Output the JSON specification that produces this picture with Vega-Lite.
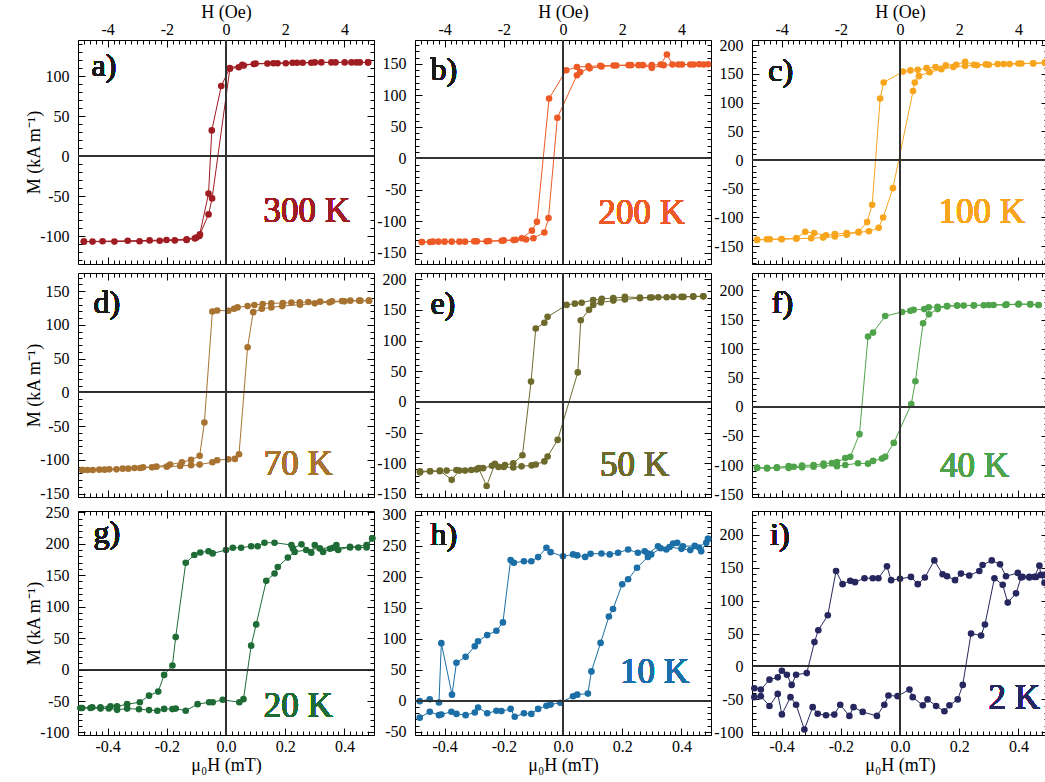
{
"$schema": "https://vega.github.io/schema/vega-lite/v6.json",
"padding": {"left": 25, "top": 2, "right": 0, "bottom": 0},
"config": {
  "view": {"stroke": "black", "strokeWidth": 1},
  "font": "Liberation Serif",
  "text": {"font": "Liberation Serif", "fontWeight": "normal"},
  "circle": {"size": 44, "opacity": 1},
  "axis": {"grid": false, "domain": false, "labelFont": "Liberation Serif", "labelFontSize": 16, "labelFontWeight": "normal", "labelColor": "black", "titleFont": "Liberation Serif", "titleFontSize": 18, "titleFontWeight": "normal", "titleColor": "black", "tickColor": "black", "tickWidth": 1, "labelFlush": false}
},
"datasets": {
"a": [
{"b":"u","x":0.48,"y":117},{"b":"u","x":0.452,"y":117},{"b":"u","x":0.424,"y":117},{"b":"u","x":0.401,"y":117},{"b":"u","x":0.356,"y":117},{"b":"u","x":0.322,"y":117},{"b":"u","x":0.288,"y":116.5},{"b":"u","x":0.259,"y":116.5},{"b":"u","x":0.225,"y":116.5},{"b":"u","x":0.202,"y":116},{"b":"u","x":0.174,"y":116},{"b":"u","x":0.14,"y":115.5},{"b":"u","x":0.094,"y":115},{"b":"u","x":0.055,"y":114},{"b":"u","x":0.013,"y":110},{"b":"u","x":-0.016,"y":87.5},{"b":"u","x":-0.048,"y":32},{"b":"u","x":-0.059,"y":-47},{"b":"u","x":-0.09,"y":-100},{"b":"u","x":-0.105,"y":-103},{"b":"u","x":-0.133,"y":-105},{"b":"u","x":-0.173,"y":-105.5},{"b":"u","x":-0.224,"y":-106},{"b":"u","x":-0.292,"y":-106.5},{"b":"u","x":-0.377,"y":-107},{"b":"u","x":-0.451,"y":-107},{"b":"u","x":-0.48,"y":-107},
{"b":"l","x":-0.48,"y":-107},{"b":"l","x":-0.417,"y":-106.5},{"b":"l","x":-0.332,"y":-106},{"b":"l","x":-0.258,"y":-105.5},{"b":"l","x":-0.201,"y":-105},{"b":"l","x":-0.133,"y":-104},{"b":"l","x":-0.1,"y":-102},{"b":"l","x":-0.088,"y":-98},{"b":"l","x":-0.059,"y":-73},{"b":"l","x":-0.047,"y":-53},{"b":"l","x":0.013,"y":109},{"b":"l","x":0.043,"y":111},{"b":"l","x":0.06,"y":113},{"b":"l","x":0.1,"y":115.5},{"b":"l","x":0.16,"y":116},{"b":"l","x":0.24,"y":116.5},{"b":"l","x":0.3,"y":117},{"b":"l","x":0.37,"y":117},{"b":"l","x":0.44,"y":117},{"b":"l","x":0.48,"y":117}
],
"b": [
{"b":"u","x":0.475,"y":149},{"b":"u","x":0.441,"y":149},{"b":"u","x":0.402,"y":149},{"b":"u","x":0.37,"y":149},{"b":"u","x":0.351,"y":165},{"b":"u","x":0.33,"y":149},{"b":"u","x":0.3,"y":148},{"b":"u","x":0.255,"y":148},{"b":"u","x":0.222,"y":148},{"b":"u","x":0.171,"y":147.5},{"b":"u","x":0.126,"y":147},{"b":"u","x":0.086,"y":146},{"b":"u","x":0.047,"y":145},{"b":"u","x":0.011,"y":140},{"b":"u","x":-0.047,"y":95},{"b":"u","x":-0.088,"y":-101},{"b":"u","x":-0.105,"y":-115},{"b":"u","x":-0.139,"y":-127},{"b":"u","x":-0.167,"y":-130},{"b":"u","x":-0.207,"y":-131},{"b":"u","x":-0.258,"y":-132},{"b":"u","x":-0.291,"y":-132},{"b":"u","x":-0.331,"y":-132.5},{"b":"u","x":-0.376,"y":-132.5},{"b":"u","x":-0.421,"y":-132.5},{"b":"u","x":-0.449,"y":-133},{"b":"u","x":-0.477,"y":-133},
{"b":"l","x":-0.477,"y":-133},{"b":"l","x":-0.44,"y":-132.5},{"b":"l","x":-0.4,"y":-132.5},{"b":"l","x":-0.35,"y":-132.5},{"b":"l","x":-0.3,"y":-132},{"b":"l","x":-0.25,"y":-131.5},{"b":"l","x":-0.2,"y":-130.5},{"b":"l","x":-0.16,"y":-129.5},{"b":"l","x":-0.125,"y":-129},{"b":"l","x":-0.1,"y":-127},{"b":"l","x":-0.063,"y":-118},{"b":"l","x":-0.049,"y":-95},{"b":"l","x":-0.019,"y":64.5},{"b":"l","x":0.047,"y":132},{"b":"l","x":0.058,"y":137},{"b":"l","x":0.09,"y":143},{"b":"l","x":0.13,"y":146},{"b":"l","x":0.18,"y":147.5},{"b":"l","x":0.23,"y":148},{"b":"l","x":0.27,"y":148},{"b":"l","x":0.3,"y":143.7},{"b":"l","x":0.34,"y":148},{"b":"l","x":0.39,"y":149},{"b":"l","x":0.43,"y":149},{"b":"l","x":0.46,"y":149.5},{"b":"l","x":0.49,"y":149.5}
],
"c": [
{"b":"u","x":0.49,"y":169},{"b":"u","x":0.45,"y":168},{"b":"u","x":0.41,"y":168},{"b":"u","x":0.37,"y":167},{"b":"u","x":0.33,"y":167},{"b":"u","x":0.29,"y":166.5},{"b":"u","x":0.25,"y":166},{"b":"u","x":0.22,"y":171},{"b":"u","x":0.19,"y":166},{"b":"u","x":0.155,"y":165},{"b":"u","x":0.12,"y":162},{"b":"u","x":0.09,"y":160},{"b":"u","x":0.06,"y":157},{"b":"u","x":0.035,"y":156},{"b":"u","x":0.01,"y":154},{"b":"u","x":-0.055,"y":135},{"b":"u","x":-0.067,"y":107},{"b":"u","x":-0.094,"y":-78},{"b":"u","x":-0.111,"y":-108},{"b":"u","x":-0.14,"y":-125},{"b":"u","x":-0.18,"y":-130},{"b":"u","x":-0.22,"y":-133},{"b":"u","x":-0.26,"y":-135},{"b":"u","x":-0.3,"y":-136},{"b":"u","x":-0.35,"y":-137},{"b":"u","x":-0.4,"y":-138},{"b":"u","x":-0.45,"y":-138},{"b":"u","x":-0.483,"y":-139},
{"b":"l","x":-0.483,"y":-139},{"b":"l","x":-0.44,"y":-138},{"b":"l","x":-0.4,"y":-137.5},{"b":"l","x":-0.35,"y":-136},{"b":"l","x":-0.32,"y":-125},{"b":"l","x":-0.29,"y":-127},{"b":"l","x":-0.25,"y":-131},{"b":"l","x":-0.22,"y":-129},{"b":"l","x":-0.18,"y":-127},{"b":"l","x":-0.14,"y":-126},{"b":"l","x":-0.105,"y":-124},{"b":"l","x":-0.072,"y":-118},{"b":"l","x":-0.057,"y":-100},{"b":"l","x":-0.024,"y":-49},{"b":"l","x":0.044,"y":120},{"b":"l","x":0.05,"y":135},{"b":"l","x":0.064,"y":146},{"b":"l","x":0.1,"y":153},{"b":"l","x":0.14,"y":158},{"b":"l","x":0.18,"y":162},{"b":"l","x":0.22,"y":164},{"b":"l","x":0.26,"y":165},{"b":"l","x":0.3,"y":166},{"b":"l","x":0.35,"y":167},{"b":"l","x":0.4,"y":168},{"b":"l","x":0.45,"y":168.5},{"b":"l","x":0.49,"y":170}
],
"d": [
{"b":"u","x":0.483,"y":136},{"b":"u","x":0.454,"y":136},{"b":"u","x":0.42,"y":136},{"b":"u","x":0.392,"y":135.5},{"b":"u","x":0.358,"y":135},{"b":"u","x":0.318,"y":134.5},{"b":"u","x":0.278,"y":134},{"b":"u","x":0.249,"y":133.5},{"b":"u","x":0.221,"y":133},{"b":"u","x":0.192,"y":132.5},{"b":"u","x":0.153,"y":132},{"b":"u","x":0.124,"y":131},{"b":"u","x":0.096,"y":129.5},{"b":"u","x":0.073,"y":128},{"b":"u","x":0.039,"y":126},{"b":"u","x":0.027,"y":124},{"b":"u","x":0.008,"y":121},{"b":"u","x":-0.03,"y":121.5},{"b":"u","x":-0.046,"y":120},{"b":"u","x":-0.073,"y":-44.5},{"b":"u","x":-0.089,"y":-94},{"b":"u","x":-0.118,"y":-100},{"b":"u","x":-0.149,"y":-103.5},{"b":"u","x":-0.189,"y":-107},{"b":"u","x":-0.235,"y":-110},{"b":"u","x":-0.28,"y":-111},{"b":"u","x":-0.309,"y":-112},{"b":"u","x":-0.349,"y":-113},{"b":"u","x":-0.394,"y":-114},{"b":"u","x":-0.428,"y":-114.5},{"b":"u","x":-0.468,"y":-115},{"b":"u","x":-0.485,"y":-115},
{"b":"l","x":-0.485,"y":-115},{"b":"l","x":-0.45,"y":-115},{"b":"l","x":-0.41,"y":-114.5},{"b":"l","x":-0.37,"y":-114},{"b":"l","x":-0.33,"y":-113},{"b":"l","x":-0.29,"y":-112},{"b":"l","x":-0.25,"y":-111},{"b":"l","x":-0.2,"y":-110},{"b":"l","x":-0.155,"y":-109},{"b":"l","x":-0.118,"y":-108},{"b":"l","x":-0.089,"y":-107},{"b":"l","x":-0.046,"y":-103.5},{"b":"l","x":-0.03,"y":-100.5},{"b":"l","x":0.008,"y":-99},{"b":"l","x":0.03,"y":-98.5},{"b":"l","x":0.044,"y":-91.6},{"b":"l","x":0.073,"y":67},{"b":"l","x":0.092,"y":119},{"b":"l","x":0.121,"y":124},{"b":"l","x":0.153,"y":126},{"b":"l","x":0.19,"y":128},{"b":"l","x":0.25,"y":130},{"b":"l","x":0.3,"y":132},{"b":"l","x":0.35,"y":133.5},{"b":"l","x":0.4,"y":135},{"b":"l","x":0.45,"y":136},{"b":"l","x":0.483,"y":136}
],
"e": [
{"b":"u","x":0.474,"y":172},{"b":"u","x":0.44,"y":172},{"b":"u","x":0.407,"y":171},{"b":"u","x":0.373,"y":171},{"b":"u","x":0.322,"y":170.5},{"b":"u","x":0.294,"y":170},{"b":"u","x":0.26,"y":170},{"b":"u","x":0.209,"y":171},{"b":"u","x":0.17,"y":169},{"b":"u","x":0.131,"y":168},{"b":"u","x":0.102,"y":166},{"b":"u","x":0.063,"y":161.5},{"b":"u","x":0.04,"y":160},{"b":"u","x":0.012,"y":158},{"b":"u","x":-0.052,"y":138.6},{"b":"u","x":-0.063,"y":129},{"b":"u","x":-0.092,"y":119.5},{"b":"u","x":-0.108,"y":33},{"b":"u","x":-0.137,"y":-87},{"b":"u","x":-0.168,"y":-100},{"b":"u","x":-0.196,"y":-103},{"b":"u","x":-0.218,"y":-106},{"b":"u","x":-0.24,"y":-104},{"b":"u","x":-0.27,"y":-108},{"b":"u","x":-0.292,"y":-110},{"b":"u","x":-0.331,"y":-112},{"b":"u","x":-0.36,"y":-111},{"b":"u","x":-0.393,"y":-112},{"b":"u","x":-0.416,"y":-113},{"b":"u","x":-0.449,"y":-113},{"b":"u","x":-0.483,"y":-115},
{"b":"l","x":-0.483,"y":-113},{"b":"l","x":-0.449,"y":-113},{"b":"l","x":-0.416,"y":-112},{"b":"l","x":-0.376,"y":-127},{"b":"l","x":-0.35,"y":-112},{"b":"l","x":-0.31,"y":-111},{"b":"l","x":-0.285,"y":-108},{"b":"l","x":-0.258,"y":-137},{"b":"l","x":-0.23,"y":-101},{"b":"l","x":-0.2,"y":-106},{"b":"l","x":-0.168,"y":-107},{"b":"l","x":-0.14,"y":-105},{"b":"l","x":-0.106,"y":-103.5},{"b":"l","x":-0.092,"y":-102},{"b":"l","x":-0.063,"y":-97},{"b":"l","x":-0.052,"y":-89},{"b":"l","x":-0.018,"y":-62},{"b":"l","x":0.05,"y":48},{"b":"l","x":0.06,"y":133},{"b":"l","x":0.088,"y":150},{"b":"l","x":0.102,"y":158},{"b":"l","x":0.128,"y":162},{"b":"l","x":0.17,"y":165},{"b":"l","x":0.209,"y":167},{"b":"l","x":0.26,"y":169},{"b":"l","x":0.3,"y":170},{"b":"l","x":0.35,"y":170.5},{"b":"l","x":0.4,"y":171},{"b":"l","x":0.44,"y":171.5},{"b":"l","x":0.474,"y":172}
],
"f": [
{"b":"u","x":0.468,"y":175},{"b":"u","x":0.44,"y":176},{"b":"u","x":0.401,"y":177},{"b":"u","x":0.356,"y":175},{"b":"u","x":0.316,"y":175},{"b":"u","x":0.283,"y":174.5},{"b":"u","x":0.249,"y":174},{"b":"u","x":0.215,"y":174},{"b":"u","x":0.193,"y":174},{"b":"u","x":0.159,"y":173},{"b":"u","x":0.127,"y":172},{"b":"u","x":0.097,"y":171},{"b":"u","x":0.082,"y":168},{"b":"u","x":0.046,"y":166.7},{"b":"u","x":0.035,"y":165},{"b":"u","x":0.007,"y":163},{"b":"u","x":-0.05,"y":156},{"b":"u","x":-0.091,"y":127.6},{"b":"u","x":-0.108,"y":120.7},{"b":"u","x":-0.137,"y":-47},{"b":"u","x":-0.168,"y":-86},{"b":"u","x":-0.185,"y":-88},{"b":"u","x":-0.213,"y":-95},{"b":"u","x":-0.23,"y":-96.5},{"b":"u","x":-0.258,"y":-97.7},{"b":"u","x":-0.292,"y":-100},{"b":"u","x":-0.331,"y":-101},{"b":"u","x":-0.359,"y":-103},{"b":"u","x":-0.376,"y":-102},{"b":"u","x":-0.416,"y":-104},{"b":"u","x":-0.449,"y":-105},{"b":"u","x":-0.483,"y":-104.6},
{"b":"l","x":-0.483,"y":-105},{"b":"l","x":-0.449,"y":-106},{"b":"l","x":-0.416,"y":-105},{"b":"l","x":-0.376,"y":-105},{"b":"l","x":-0.331,"y":-104},{"b":"l","x":-0.292,"y":-103},{"b":"l","x":-0.258,"y":-101},{"b":"l","x":-0.213,"y":-102},{"b":"l","x":-0.185,"y":-100},{"b":"l","x":-0.142,"y":-97},{"b":"l","x":-0.108,"y":-97.7},{"b":"l","x":-0.091,"y":-93},{"b":"l","x":-0.061,"y":-89},{"b":"l","x":-0.05,"y":-86},{"b":"l","x":-0.021,"y":-62},{"b":"l","x":0.038,"y":4.6},{"b":"l","x":0.052,"y":44},{"b":"l","x":0.078,"y":143.7},{"b":"l","x":0.098,"y":159},{"b":"l","x":0.127,"y":168},{"b":"l","x":0.159,"y":173},{"b":"l","x":0.193,"y":174},{"b":"l","x":0.25,"y":174.5},{"b":"l","x":0.3,"y":175},{"b":"l","x":0.36,"y":176},{"b":"l","x":0.4,"y":176},{"b":"l","x":0.44,"y":176.5},{"b":"l","x":0.468,"y":175}
],
"g": [
{"b":"u","x":0.494,"y":208.5},{"b":"u","x":0.475,"y":194},{"b":"u","x":0.447,"y":194},{"b":"u","x":0.419,"y":195},{"b":"u","x":0.379,"y":190},{"b":"u","x":0.373,"y":198},{"b":"u","x":0.351,"y":192},{"b":"u","x":0.328,"y":187},{"b":"u","x":0.3,"y":198},{"b":"u","x":0.288,"y":185.6},{"b":"u","x":0.255,"y":199},{"b":"u","x":0.226,"y":192.5},{"b":"u","x":0.221,"y":198},{"b":"u","x":0.164,"y":201.6},{"b":"u","x":0.13,"y":201.6},{"b":"u","x":0.107,"y":196},{"b":"u","x":0.085,"y":196},{"b":"u","x":0.051,"y":193.6},{"b":"u","x":0.023,"y":193.6},{"b":"u","x":0,"y":190},{"b":"u","x":-0.045,"y":184.6},{"b":"u","x":-0.059,"y":188},{"b":"u","x":-0.087,"y":186},{"b":"u","x":-0.107,"y":182},{"b":"u","x":-0.136,"y":169.7},{"b":"u","x":-0.17,"y":51.6},{"b":"u","x":-0.181,"y":6.4},{"b":"u","x":-0.209,"y":-8.5},{"b":"u","x":-0.229,"y":-35},{"b":"u","x":-0.26,"y":-41.5},{"b":"u","x":-0.291,"y":-52},{"b":"u","x":-0.334,"y":-55},{"b":"u","x":-0.368,"y":-58.5},{"b":"u","x":-0.39,"y":-58.5},{"b":"u","x":-0.424,"y":-60},{"b":"u","x":-0.452,"y":-60},{"b":"u","x":-0.486,"y":-61},
{"b":"l","x":-0.492,"y":-61},{"b":"l","x":-0.458,"y":-61},{"b":"l","x":-0.424,"y":-62},{"b":"l","x":-0.396,"y":-61.7},{"b":"l","x":-0.368,"y":-64},{"b":"l","x":-0.334,"y":-62},{"b":"l","x":-0.294,"y":-63},{"b":"l","x":-0.26,"y":-64.4},{"b":"l","x":-0.232,"y":-65.4},{"b":"l","x":-0.209,"y":-62.5},{"b":"l","x":-0.181,"y":-62.8},{"b":"l","x":-0.17,"y":-62},{"b":"l","x":-0.136,"y":-65.4},{"b":"l","x":-0.096,"y":-55},{"b":"l","x":-0.057,"y":-52},{"b":"l","x":-0.045,"y":-52},{"b":"l","x":-0.011,"y":-48},{"b":"l","x":0.045,"y":-52},{"b":"l","x":0.059,"y":-47},{"b":"l","x":0.085,"y":38},{"b":"l","x":0.102,"y":71.8},{"b":"l","x":0.136,"y":141},{"b":"l","x":0.164,"y":152.7},{"b":"l","x":0.175,"y":163},{"b":"l","x":0.209,"y":178},{"b":"l","x":0.232,"y":187},{"b":"l","x":0.271,"y":190},{"b":"l","x":0.317,"y":192.5},{"b":"l","x":0.362,"y":193.6},{"b":"l","x":0.419,"y":194},{"b":"l","x":0.475,"y":198},{"b":"l","x":0.494,"y":208.5}
],
"h": [
{"b":"u","x":0.49,"y":261},{"b":"u","x":0.484,"y":254.7},{"b":"u","x":0.467,"y":241},{"b":"u","x":0.445,"y":250},{"b":"u","x":0.405,"y":249},{"b":"u","x":0.386,"y":254.7},{"b":"u","x":0.372,"y":253.6},{"b":"u","x":0.349,"y":244},{"b":"u","x":0.321,"y":249},{"b":"u","x":0.287,"y":237.6},{"b":"u","x":0.276,"y":241},{"b":"u","x":0.253,"y":238.7},{"b":"u","x":0.22,"y":244},{"b":"u","x":0.186,"y":238.7},{"b":"u","x":0.158,"y":236},{"b":"u","x":0.13,"y":237.6},{"b":"u","x":0.093,"y":237},{"b":"u","x":0.075,"y":232},{"b":"u","x":0.048,"y":234.4},{"b":"u","x":0.034,"y":236},{"b":"u","x":0,"y":233},{"b":"u","x":-0.042,"y":239.7},{"b":"u","x":-0.056,"y":246.7},{"b":"u","x":-0.084,"y":231.7},{"b":"u","x":-0.107,"y":225},{"b":"u","x":-0.132,"y":225},{"b":"u","x":-0.166,"y":222.6},{"b":"u","x":-0.177,"y":227},{"b":"u","x":-0.203,"y":126.5},{"b":"u","x":-0.225,"y":113},{"b":"u","x":-0.256,"y":106},{"b":"u","x":-0.287,"y":96},{"b":"u","x":-0.298,"y":88},{"b":"u","x":-0.329,"y":71},{"b":"u","x":-0.36,"y":61.4},{"b":"u","x":-0.375,"y":10},{"b":"u","x":-0.411,"y":93},{"b":"u","x":-0.419,"y":-2.7},{"b":"u","x":-0.45,"y":2.7},{"b":"u","x":-0.484,"y":-0.5},
{"b":"l","x":-0.484,"y":-27},{"b":"l","x":-0.45,"y":-17.6},{"b":"l","x":-0.419,"y":-23},{"b":"l","x":-0.411,"y":-22},{"b":"l","x":-0.377,"y":-17.6},{"b":"l","x":-0.36,"y":-21},{"b":"l","x":-0.329,"y":-23},{"b":"l","x":-0.298,"y":-18.7},{"b":"l","x":-0.287,"y":-10.7},{"b":"l","x":-0.256,"y":-20},{"b":"l","x":-0.225,"y":-16},{"b":"l","x":-0.208,"y":-16.5},{"b":"l","x":-0.177,"y":-13},{"b":"l","x":-0.163,"y":-25.6},{"b":"l","x":-0.132,"y":-20},{"b":"l","x":-0.107,"y":-21},{"b":"l","x":-0.084,"y":-13},{"b":"l","x":-0.056,"y":-8},{"b":"l","x":-0.042,"y":-6},{"b":"l","x":-0.009,"y":-3},{"b":"l","x":0.034,"y":7.5},{"b":"l","x":0.048,"y":10},{"b":"l","x":0.084,"y":11.7},{"b":"l","x":0.096,"y":47.5},{"b":"l","x":0.127,"y":93.4},{"b":"l","x":0.155,"y":136},{"b":"l","x":0.169,"y":148},{"b":"l","x":0.2,"y":188},{"b":"l","x":0.22,"y":196},{"b":"l","x":0.25,"y":214.6},{"b":"l","x":0.287,"y":232},{"b":"l","x":0.298,"y":236},{"b":"l","x":0.33,"y":246},{"b":"l","x":0.36,"y":248},{"b":"l","x":0.4,"y":245},{"b":"l","x":0.43,"y":243},{"b":"l","x":0.46,"y":247},{"b":"l","x":0.49,"y":261}
],
"i": [
{"b":"u","x":0.488,"y":127},{"b":"u","x":0.476,"y":139},{"b":"u","x":0.471,"y":153},{"b":"u","x":0.454,"y":136},{"b":"u","x":0.437,"y":136},{"b":"u","x":0.414,"y":136},{"b":"u","x":0.398,"y":142},{"b":"u","x":0.358,"y":137},{"b":"u","x":0.338,"y":155},{"b":"u","x":0.31,"y":161},{"b":"u","x":0.279,"y":154},{"b":"u","x":0.268,"y":145},{"b":"u","x":0.234,"y":138},{"b":"u","x":0.206,"y":141},{"b":"u","x":0.186,"y":131},{"b":"u","x":0.159,"y":137},{"b":"u","x":0.144,"y":140},{"b":"u","x":0.116,"y":161},{"b":"u","x":0.084,"y":135},{"b":"u","x":0.06,"y":125},{"b":"u","x":0.037,"y":136},{"b":"u","x":0,"y":133},{"b":"u","x":-0.03,"y":131},{"b":"u","x":-0.044,"y":152},{"b":"u","x":-0.073,"y":134},{"b":"u","x":-0.092,"y":134},{"b":"u","x":-0.12,"y":134},{"b":"u","x":-0.152,"y":128},{"b":"u","x":-0.168,"y":130},{"b":"u","x":-0.194,"y":125},{"b":"u","x":-0.216,"y":145},{"b":"u","x":-0.244,"y":77.7},{"b":"u","x":-0.276,"y":55},{"b":"u","x":-0.289,"y":37},{"b":"u","x":-0.315,"y":-10},{"b":"u","x":-0.351,"y":-12.5},{"b":"u","x":-0.366,"y":-28},{"b":"u","x":-0.382,"y":-12.5},{"b":"u","x":-0.399,"y":-6.5},{"b":"u","x":-0.413,"y":-16.5},{"b":"u","x":-0.441,"y":-20},{"b":"u","x":-0.47,"y":-35},{"b":"u","x":-0.492,"y":-33},
{"b":"l","x":-0.492,"y":-46.6},{"b":"l","x":-0.47,"y":-45},{"b":"l","x":-0.441,"y":-60},{"b":"l","x":-0.413,"y":-41.6},{"b":"l","x":-0.399,"y":-72.7},{"b":"l","x":-0.37,"y":-46.6},{"b":"l","x":-0.351,"y":-58},{"b":"l","x":-0.323,"y":-95.7},{"b":"l","x":-0.295,"y":-61.7},{"b":"l","x":-0.278,"y":-71.7},{"b":"l","x":-0.25,"y":-74},{"b":"l","x":-0.222,"y":-73},{"b":"l","x":-0.202,"y":-58},{"b":"l","x":-0.171,"y":-75},{"b":"l","x":-0.157,"y":-61.7},{"b":"l","x":-0.126,"y":-69},{"b":"l","x":-0.078,"y":-75},{"b":"l","x":-0.053,"y":-58},{"b":"l","x":-0.039,"y":-44},{"b":"l","x":-0.008,"y":-45},{"b":"l","x":0.032,"y":-35},{"b":"l","x":0.043,"y":-46.6},{"b":"l","x":0.077,"y":-59},{"b":"l","x":0.093,"y":-50},{"b":"l","x":0.122,"y":-60},{"b":"l","x":0.15,"y":-68},{"b":"l","x":0.167,"y":-59},{"b":"l","x":0.195,"y":-50},{"b":"l","x":0.212,"y":-28},{"b":"l","x":0.24,"y":50},{"b":"l","x":0.274,"y":47},{"b":"l","x":0.287,"y":63.7},{"b":"l","x":0.319,"y":134},{"b":"l","x":0.347,"y":124},{"b":"l","x":0.364,"y":97},{"b":"l","x":0.392,"y":111},{"b":"l","x":0.409,"y":135},{"b":"l","x":0.437,"y":135},{"b":"l","x":0.46,"y":136},{"b":"l","x":0.488,"y":139}
]
},
"vconcat": [
{"vconcat": [
{"hconcat": [
{"width":296,"height":224,"data":{"name":"a"},"layer":[
{"mark":{"type":"line","color":"#9E1C22","strokeWidth":1},"encoding":{"x":{"field":"x","type":"quantitative","scale":{"domain":[-0.5,0.5],"nice":false,"zero":false},"axis":null},"y":{"field":"y","type":"quantitative","scale":{"domain":[-135,145],"nice":false,"zero":false},"axis":{"orient":"left","values":[-100,-50,0,50,100],"ticks":false,"labelPadding":9,"labelExpr":"toString(datum.value)","title":"M (kA m⁻¹)","titlePadding":-4}},"detail":{"field":"b"}}},
{"mark":{"type":"circle","color":"#9E1C22"},"encoding":{"x":{"field":"x","type":"quantitative","axis":{"orient":"bottom","values":[-0.4,-0.2,0,0.2,0.4],"labels":false,"tickSize":7,"offset":-7,"title":null}},"y":{"field":"y","type":"quantitative","axis":{"orient":"left","values":[-100,-50,0,50,100],"labels":false,"tickSize":7,"offset":-7,"title":null}}}},
{"mark":{"type":"rule","color":"#333","strokeWidth":1},"encoding":{"x":{"datum":0,"axis":{"orient":"top","values":[-0.4,-0.2,0,0.2,0.4],"labels":false,"tickSize":7,"offset":-7,"title":null}},"y":{"datum":-135,"axis":null},"y2":{"datum":145}}},
{"mark":{"type":"rule","color":"#333","strokeWidth":1},"encoding":{"y":{"datum":0,"axis":{"orient":"right","values":[-100,-50,0,50,100],"labels":false,"tickSize":7,"offset":-7,"title":null}},"x":{"datum":-0.5,"axis":null},"x2":{"datum":0.5}}},
{"mark":{"type":"text","text":"a)","align":"left","baseline":"alphabetic","fontSize":32,"fontWeight":"normal","color":"#1a1a1a"},"encoding":{"x":{"datum":-0.454,"axis":{"orient":"top","tickCount":50,"labels":false,"tickSize":4,"offset":-4,"title":null}},"y":{"datum":100,"axis":{"orient":"right","tickCount":28,"labels":false,"tickSize":4,"offset":-4,"title":null}}}},
{"mark":{"type":"text","text":"300 K","align":"right","baseline":"alphabetic","fontSize":35,"fontWeight":"normal","color":"#9E1C22"},"encoding":{"x":{"datum":0.419,"axis":{"orient":"bottom","tickCount":50,"labels":false,"tickSize":4,"offset":-4,"title":null}},"y":{"datum":-83,"axis":{"orient":"left","tickCount":28,"labels":false,"tickSize":4,"offset":-4,"title":null}}}},
{"mark":{"type":"rule","color":"#333","strokeWidth":1},"encoding":{"x":{"datum":0,"axis":{"orient":"top","values":[-0.4,-0.2,0,0.2,0.4],"ticks":false,"labelPadding":3,"labelExpr":"toString(round(datum.value*10))","title":"H (Oe)","titlePadding":0}},"y":{"datum":-135,"axis":null},"y2":{"datum":145}}}
],"resolve":{"axis":{"x":"independent","y":"independent"}}},
{"width":296,"height":224,"data":{"name":"b"},"layer":[
{"mark":{"type":"line","color":"#EE5A26","strokeWidth":1},"encoding":{"x":{"field":"x","type":"quantitative","scale":{"domain":[-0.5,0.5],"nice":false,"zero":false},"axis":null},"y":{"field":"y","type":"quantitative","scale":{"domain":[-168,188],"nice":false,"zero":false},"axis":{"orient":"left","values":[-150,-100,-50,0,50,100,150],"ticks":false,"labelPadding":9,"labelExpr":"toString(datum.value)","title":null}},"detail":{"field":"b"}}},
{"mark":{"type":"circle","color":"#EE5A26"},"encoding":{"x":{"field":"x","type":"quantitative","axis":{"orient":"bottom","values":[-0.4,-0.2,0,0.2,0.4],"labels":false,"tickSize":7,"offset":-7,"title":null}},"y":{"field":"y","type":"quantitative","axis":{"orient":"left","values":[-150,-100,-50,0,50,100,150],"labels":false,"tickSize":7,"offset":-7,"title":null}}}},
{"mark":{"type":"rule","color":"#333","strokeWidth":1},"encoding":{"x":{"datum":0,"axis":{"orient":"top","values":[-0.4,-0.2,0,0.2,0.4],"labels":false,"tickSize":7,"offset":-7,"title":null}},"y":{"datum":-168,"axis":null},"y2":{"datum":188}}},
{"mark":{"type":"rule","color":"#333","strokeWidth":1},"encoding":{"y":{"datum":0,"axis":{"orient":"right","values":[-150,-100,-50,0,50,100,150],"labels":false,"tickSize":7,"offset":-7,"title":null}},"x":{"datum":-0.5,"axis":null},"x2":{"datum":0.5}}},
{"mark":{"type":"text","text":"b)","align":"left","baseline":"alphabetic","fontSize":32,"fontWeight":"normal","color":"#1a1a1a"},"encoding":{"x":{"datum":-0.448,"axis":{"orient":"top","tickCount":50,"labels":false,"tickSize":4,"offset":-4,"title":null}},"y":{"datum":124,"axis":{"orient":"right","tickCount":36,"labels":false,"tickSize":4,"offset":-4,"title":null}}}},
{"mark":{"type":"text","text":"200 K","align":"right","baseline":"alphabetic","fontSize":35,"fontWeight":"normal","color":"#EE5A26"},"encoding":{"x":{"datum":0.412,"axis":{"orient":"bottom","tickCount":50,"labels":false,"tickSize":4,"offset":-4,"title":null}},"y":{"datum":-104,"axis":{"orient":"left","tickCount":36,"labels":false,"tickSize":4,"offset":-4,"title":null}}}},
{"mark":{"type":"rule","color":"#333","strokeWidth":1},"encoding":{"x":{"datum":0,"axis":{"orient":"top","values":[-0.4,-0.2,0,0.2,0.4],"ticks":false,"labelPadding":3,"labelExpr":"toString(round(datum.value*10))","title":"H (Oe)","titlePadding":0}},"y":{"datum":-168,"axis":null},"y2":{"datum":188}}}
],"resolve":{"axis":{"x":"independent","y":"independent"}}},
{"width":296,"height":224,"data":{"name":"c"},"layer":[
{"mark":{"type":"line","color":"#F8A51E","strokeWidth":1},"encoding":{"x":{"field":"x","type":"quantitative","scale":{"domain":[-0.5,0.5],"nice":false,"zero":false},"axis":null},"y":{"field":"y","type":"quantitative","scale":{"domain":[-181,209],"nice":false,"zero":false},"axis":{"orient":"left","values":[-150,-100,-50,0,50,100,150,200],"ticks":false,"labelPadding":9,"labelExpr":"toString(datum.value)","title":null}},"detail":{"field":"b"}}},
{"mark":{"type":"circle","color":"#F8A51E"},"encoding":{"x":{"field":"x","type":"quantitative","axis":{"orient":"bottom","values":[-0.4,-0.2,0,0.2,0.4],"labels":false,"tickSize":7,"offset":-7,"title":null}},"y":{"field":"y","type":"quantitative","axis":{"orient":"left","values":[-150,-100,-50,0,50,100,150,200],"labels":false,"tickSize":7,"offset":-7,"title":null}}}},
{"mark":{"type":"rule","color":"#333","strokeWidth":1},"encoding":{"x":{"datum":0,"axis":{"orient":"top","values":[-0.4,-0.2,0,0.2,0.4],"labels":false,"tickSize":7,"offset":-7,"title":null}},"y":{"datum":-181,"axis":null},"y2":{"datum":209}}},
{"mark":{"type":"rule","color":"#333","strokeWidth":1},"encoding":{"y":{"datum":0,"axis":{"orient":"right","values":[-150,-100,-50,0,50,100,150,200],"labels":false,"tickSize":7,"offset":-7,"title":null}},"x":{"datum":-0.5,"axis":null},"x2":{"datum":0.5}}},
{"mark":{"type":"text","text":"c)","align":"left","baseline":"alphabetic","fontSize":32,"fontWeight":"normal","color":"#1a1a1a"},"encoding":{"x":{"datum":-0.445,"axis":{"orient":"top","tickCount":50,"labels":false,"tickSize":4,"offset":-4,"title":null}},"y":{"datum":138,"axis":{"orient":"right","tickCount":39,"labels":false,"tickSize":4,"offset":-4,"title":null}}}},
{"mark":{"type":"text","text":"100 K","align":"right","baseline":"alphabetic","fontSize":35,"fontWeight":"normal","color":"#F8A51E"},"encoding":{"x":{"datum":0.422,"axis":{"orient":"bottom","tickCount":50,"labels":false,"tickSize":4,"offset":-4,"title":null}},"y":{"datum":-110,"axis":{"orient":"left","tickCount":39,"labels":false,"tickSize":4,"offset":-4,"title":null}}}},
{"mark":{"type":"rule","color":"#333","strokeWidth":1},"encoding":{"x":{"datum":0,"axis":{"orient":"top","values":[-0.4,-0.2,0,0.2,0.4],"ticks":false,"labelPadding":3,"labelExpr":"toString(round(datum.value*10))","title":"H (Oe)","titlePadding":0}},"y":{"datum":-181,"axis":null},"y2":{"datum":209}}}
],"resolve":{"axis":{"x":"independent","y":"independent"}}}
],"spacing":41,"bounds":"flush"},
{"hconcat": [
{"width":296,"height":224,"data":{"name":"d"},"layer":[
{"mark":{"type":"line","color":"#A87331","strokeWidth":1},"encoding":{"x":{"field":"x","type":"quantitative","scale":{"domain":[-0.5,0.5],"nice":false,"zero":false},"axis":null},"y":{"field":"y","type":"quantitative","scale":{"domain":[-155,177],"nice":false,"zero":false},"axis":{"orient":"left","values":[-150,-100,-50,0,50,100,150],"ticks":false,"labelPadding":9,"labelExpr":"toString(datum.value)","title":"M (kA m⁻¹)","titlePadding":-4}},"detail":{"field":"b"}}},
{"mark":{"type":"circle","color":"#A87331"},"encoding":{"x":{"field":"x","type":"quantitative","axis":{"orient":"bottom","values":[-0.4,-0.2,0,0.2,0.4],"labels":false,"tickSize":7,"offset":-7,"title":null}},"y":{"field":"y","type":"quantitative","axis":{"orient":"left","values":[-150,-100,-50,0,50,100,150],"labels":false,"tickSize":7,"offset":-7,"title":null}}}},
{"mark":{"type":"rule","color":"#333","strokeWidth":1},"encoding":{"x":{"datum":0,"axis":{"orient":"top","values":[-0.4,-0.2,0,0.2,0.4],"labels":false,"tickSize":7,"offset":-7,"title":null}},"y":{"datum":-155,"axis":null},"y2":{"datum":177}}},
{"mark":{"type":"rule","color":"#333","strokeWidth":1},"encoding":{"y":{"datum":0,"axis":{"orient":"right","values":[-150,-100,-50,0,50,100,150],"labels":false,"tickSize":7,"offset":-7,"title":null}},"x":{"datum":-0.5,"axis":null},"x2":{"datum":0.5}}},
{"mark":{"type":"text","text":"d)","align":"left","baseline":"alphabetic","fontSize":32,"fontWeight":"normal","color":"#1a1a1a"},"encoding":{"x":{"datum":-0.448,"axis":{"orient":"top","tickCount":50,"labels":false,"tickSize":4,"offset":-4,"title":null}},"y":{"datum":118,"axis":{"orient":"right","tickCount":33,"labels":false,"tickSize":4,"offset":-4,"title":null}}}},
{"mark":{"type":"text","text":"70 K","align":"right","baseline":"alphabetic","fontSize":35,"fontWeight":"normal","color":"#A87331"},"encoding":{"x":{"datum":0.361,"axis":{"orient":"bottom","tickCount":50,"labels":false,"tickSize":4,"offset":-4,"title":null}},"y":{"datum":-122,"axis":{"orient":"left","tickCount":33,"labels":false,"tickSize":4,"offset":-4,"title":null}}}}
],"resolve":{"axis":{"x":"independent","y":"independent"}}},
{"width":296,"height":224,"data":{"name":"e"},"layer":[
{"mark":{"type":"line","color":"#6D6A2C","strokeWidth":1},"encoding":{"x":{"field":"x","type":"quantitative","scale":{"domain":[-0.5,0.5],"nice":false,"zero":false},"axis":null},"y":{"field":"y","type":"quantitative","scale":{"domain":[-155,210],"nice":false,"zero":false},"axis":{"orient":"left","values":[-150,-100,-50,0,50,100,150,200],"ticks":false,"labelPadding":9,"labelExpr":"toString(datum.value)","title":null}},"detail":{"field":"b"}}},
{"mark":{"type":"circle","color":"#6D6A2C"},"encoding":{"x":{"field":"x","type":"quantitative","axis":{"orient":"bottom","values":[-0.4,-0.2,0,0.2,0.4],"labels":false,"tickSize":7,"offset":-7,"title":null}},"y":{"field":"y","type":"quantitative","axis":{"orient":"left","values":[-150,-100,-50,0,50,100,150,200],"labels":false,"tickSize":7,"offset":-7,"title":null}}}},
{"mark":{"type":"rule","color":"#333","strokeWidth":1},"encoding":{"x":{"datum":0,"axis":{"orient":"top","values":[-0.4,-0.2,0,0.2,0.4],"labels":false,"tickSize":7,"offset":-7,"title":null}},"y":{"datum":-155,"axis":null},"y2":{"datum":210}}},
{"mark":{"type":"rule","color":"#333","strokeWidth":1},"encoding":{"y":{"datum":0,"axis":{"orient":"right","values":[-150,-100,-50,0,50,100,150,200],"labels":false,"tickSize":7,"offset":-7,"title":null}},"x":{"datum":-0.5,"axis":null},"x2":{"datum":0.5}}},
{"mark":{"type":"text","text":"e)","align":"left","baseline":"alphabetic","fontSize":32,"fontWeight":"normal","color":"#1a1a1a"},"encoding":{"x":{"datum":-0.448,"axis":{"orient":"top","tickCount":50,"labels":false,"tickSize":4,"offset":-4,"title":null}},"y":{"datum":144,"axis":{"orient":"right","tickCount":36,"labels":false,"tickSize":4,"offset":-4,"title":null}}}},
{"mark":{"type":"text","text":"50 K","align":"right","baseline":"alphabetic","fontSize":35,"fontWeight":"normal","color":"#6D6A2C"},"encoding":{"x":{"datum":0.358,"axis":{"orient":"bottom","tickCount":50,"labels":false,"tickSize":4,"offset":-4,"title":null}},"y":{"datum":-120,"axis":{"orient":"left","tickCount":36,"labels":false,"tickSize":4,"offset":-4,"title":null}}}}
],"resolve":{"axis":{"x":"independent","y":"independent"}}},
{"width":296,"height":224,"data":{"name":"f"},"layer":[
{"mark":{"type":"line","color":"#4FA44B","strokeWidth":1},"encoding":{"x":{"field":"x","type":"quantitative","scale":{"domain":[-0.5,0.5],"nice":false,"zero":false},"axis":null},"y":{"field":"y","type":"quantitative","scale":{"domain":[-155,230],"nice":false,"zero":false},"axis":{"orient":"left","values":[-150,-100,-50,0,50,100,150,200],"ticks":false,"labelPadding":9,"labelExpr":"toString(datum.value)","title":null}},"detail":{"field":"b"}}},
{"mark":{"type":"circle","color":"#4FA44B"},"encoding":{"x":{"field":"x","type":"quantitative","axis":{"orient":"bottom","values":[-0.4,-0.2,0,0.2,0.4],"labels":false,"tickSize":7,"offset":-7,"title":null}},"y":{"field":"y","type":"quantitative","axis":{"orient":"left","values":[-150,-100,-50,0,50,100,150,200],"labels":false,"tickSize":7,"offset":-7,"title":null}}}},
{"mark":{"type":"rule","color":"#333","strokeWidth":1},"encoding":{"x":{"datum":0,"axis":{"orient":"top","values":[-0.4,-0.2,0,0.2,0.4],"labels":false,"tickSize":7,"offset":-7,"title":null}},"y":{"datum":-155,"axis":null},"y2":{"datum":230}}},
{"mark":{"type":"rule","color":"#333","strokeWidth":1},"encoding":{"y":{"datum":0,"axis":{"orient":"right","values":[-150,-100,-50,0,50,100,150,200],"labels":false,"tickSize":7,"offset":-7,"title":null}},"x":{"datum":-0.5,"axis":null},"x2":{"datum":0.5}}},
{"mark":{"type":"text","text":"f)","align":"left","baseline":"alphabetic","fontSize":32,"fontWeight":"normal","color":"#1a1a1a"},"encoding":{"x":{"datum":-0.433,"axis":{"orient":"top","tickCount":50,"labels":false,"tickSize":4,"offset":-4,"title":null}},"y":{"datum":161,"axis":{"orient":"right","tickCount":38,"labels":false,"tickSize":4,"offset":-4,"title":null}}}},
{"mark":{"type":"text","text":"40 K","align":"right","baseline":"alphabetic","fontSize":35,"fontWeight":"normal","color":"#4FA44B"},"encoding":{"x":{"datum":0.368,"axis":{"orient":"bottom","tickCount":50,"labels":false,"tickSize":4,"offset":-4,"title":null}},"y":{"datum":-120,"axis":{"orient":"left","tickCount":38,"labels":false,"tickSize":4,"offset":-4,"title":null}}}}
],"resolve":{"axis":{"x":"independent","y":"independent"}}}
],"spacing":41,"bounds":"flush"}
],"spacing":5},
{"hconcat": [
{"width":296,"height":224,"data":{"name":"g"},"layer":[
{"mark":{"type":"line","color":"#1E6B36","strokeWidth":1},"encoding":{"x":{"field":"x","type":"quantitative","scale":{"domain":[-0.5,0.5],"nice":false,"zero":false},"axis":{"orient":"bottom","values":[-0.4,-0.2,0,0.2,0.4],"ticks":false,"labelPadding":3,"labelExpr":"datum.value == 0 ? '0.0' : toString(datum.value)","title":"μ₀H (mT)","titlePadding":2}},"y":{"field":"y","type":"quantitative","scale":{"domain":[-104,252],"nice":false,"zero":false},"axis":{"orient":"left","values":[-100,-50,0,50,100,150,200,250],"ticks":false,"labelPadding":9,"labelExpr":"toString(datum.value)","title":"M (kA m⁻¹)","titlePadding":-4}},"detail":{"field":"b"}}},
{"mark":{"type":"circle","color":"#1E6B36"},"encoding":{"x":{"field":"x","type":"quantitative","axis":{"orient":"bottom","values":[-0.4,-0.2,0,0.2,0.4],"labels":false,"tickSize":7,"offset":-7,"title":null}},"y":{"field":"y","type":"quantitative","axis":{"orient":"left","values":[-100,-50,0,50,100,150,200,250],"labels":false,"tickSize":7,"offset":-7,"title":null}}}},
{"mark":{"type":"rule","color":"#333","strokeWidth":1},"encoding":{"x":{"datum":0,"axis":{"orient":"top","values":[-0.4,-0.2,0,0.2,0.4],"labels":false,"tickSize":7,"offset":-7,"title":null}},"y":{"datum":-104,"axis":null},"y2":{"datum":252}}},
{"mark":{"type":"rule","color":"#333","strokeWidth":1},"encoding":{"y":{"datum":0,"axis":{"orient":"right","values":[-100,-50,0,50,100,150,200,250],"labels":false,"tickSize":7,"offset":-7,"title":null}},"x":{"datum":-0.5,"axis":null},"x2":{"datum":0.5}}},
{"mark":{"type":"text","text":"g)","align":"left","baseline":"alphabetic","fontSize":32,"fontWeight":"normal","color":"#1a1a1a"},"encoding":{"x":{"datum":-0.448,"axis":{"orient":"top","tickCount":50,"labels":false,"tickSize":4,"offset":-4,"title":null}},"y":{"datum":201,"axis":{"orient":"right","tickCount":36,"labels":false,"tickSize":4,"offset":-4,"title":null}}}},
{"mark":{"type":"text","text":"20 K","align":"right","baseline":"alphabetic","fontSize":35,"fontWeight":"normal","color":"#1E6B36"},"encoding":{"x":{"datum":0.361,"axis":{"orient":"bottom","tickCount":50,"labels":false,"tickSize":4,"offset":-4,"title":null}},"y":{"datum":-75,"axis":{"orient":"left","tickCount":36,"labels":false,"tickSize":4,"offset":-4,"title":null}}}}
],"resolve":{"axis":{"x":"independent","y":"independent"}}},
{"width":296,"height":224,"data":{"name":"h"},"layer":[
{"mark":{"type":"line","color":"#1B6FA6","strokeWidth":1},"encoding":{"x":{"field":"x","type":"quantitative","scale":{"domain":[-0.5,0.5],"nice":false,"zero":false},"axis":{"orient":"bottom","values":[-0.4,-0.2,0,0.2,0.4],"ticks":false,"labelPadding":3,"labelExpr":"datum.value == 0 ? '0.0' : toString(datum.value)","title":"μ₀H (mT)","titlePadding":2}},"y":{"field":"y","type":"quantitative","scale":{"domain":[-55,306],"nice":false,"zero":false},"axis":{"orient":"left","values":[-50,0,50,100,150,200,250,300],"ticks":false,"labelPadding":9,"labelExpr":"toString(datum.value)","title":null}},"detail":{"field":"b"}}},
{"mark":{"type":"circle","color":"#1B6FA6"},"encoding":{"x":{"field":"x","type":"quantitative","axis":{"orient":"bottom","values":[-0.4,-0.2,0,0.2,0.4],"labels":false,"tickSize":7,"offset":-7,"title":null}},"y":{"field":"y","type":"quantitative","axis":{"orient":"left","values":[-50,0,50,100,150,200,250,300],"labels":false,"tickSize":7,"offset":-7,"title":null}}}},
{"mark":{"type":"rule","color":"#333","strokeWidth":1},"encoding":{"x":{"datum":0,"axis":{"orient":"top","values":[-0.4,-0.2,0,0.2,0.4],"labels":false,"tickSize":7,"offset":-7,"title":null}},"y":{"datum":-55,"axis":null},"y2":{"datum":306}}},
{"mark":{"type":"rule","color":"#333","strokeWidth":1},"encoding":{"y":{"datum":0,"axis":{"orient":"right","values":[-50,0,50,100,150,200,250,300],"labels":false,"tickSize":7,"offset":-7,"title":null}},"x":{"datum":-0.5,"axis":null},"x2":{"datum":0.5}}},
{"mark":{"type":"text","text":"h)","align":"left","baseline":"alphabetic","fontSize":32,"fontWeight":"normal","color":"#1a1a1a"},"encoding":{"x":{"datum":-0.448,"axis":{"orient":"top","tickCount":50,"labels":false,"tickSize":4,"offset":-4,"title":null}},"y":{"datum":251,"axis":{"orient":"right","tickCount":36,"labels":false,"tickSize":4,"offset":-4,"title":null}}}},
{"mark":{"type":"text","text":"10 K","align":"right","baseline":"alphabetic","fontSize":35,"fontWeight":"normal","color":"#1B6FA6"},"encoding":{"x":{"datum":0.426,"axis":{"orient":"bottom","tickCount":50,"labels":false,"tickSize":4,"offset":-4,"title":null}},"y":{"datum":28,"axis":{"orient":"left","tickCount":36,"labels":false,"tickSize":4,"offset":-4,"title":null}}}}
],"resolve":{"axis":{"x":"independent","y":"independent"}}},
{"width":296,"height":224,"data":{"name":"i"},"layer":[
{"mark":{"type":"line","color":"#27275F","strokeWidth":1},"encoding":{"x":{"field":"x","type":"quantitative","scale":{"domain":[-0.5,0.5],"nice":false,"zero":false},"axis":{"orient":"bottom","values":[-0.4,-0.2,0,0.2,0.4],"ticks":false,"labelPadding":3,"labelExpr":"datum.value == 0 ? '0.0' : toString(datum.value)","title":"μ₀H (mT)","titlePadding":2}},"y":{"field":"y","type":"quantitative","scale":{"domain":[-104,236],"nice":false,"zero":false},"axis":{"orient":"left","values":[-100,-50,0,50,100,150,200],"ticks":false,"labelPadding":9,"labelExpr":"toString(datum.value)","title":null}},"detail":{"field":"b"}}},
{"mark":{"type":"circle","color":"#27275F"},"encoding":{"x":{"field":"x","type":"quantitative","axis":{"orient":"bottom","values":[-0.4,-0.2,0,0.2,0.4],"labels":false,"tickSize":7,"offset":-7,"title":null}},"y":{"field":"y","type":"quantitative","axis":{"orient":"left","values":[-100,-50,0,50,100,150,200],"labels":false,"tickSize":7,"offset":-7,"title":null}}}},
{"mark":{"type":"rule","color":"#333","strokeWidth":1},"encoding":{"x":{"datum":0,"axis":{"orient":"top","values":[-0.4,-0.2,0,0.2,0.4],"labels":false,"tickSize":7,"offset":-7,"title":null}},"y":{"datum":-104,"axis":null},"y2":{"datum":236}}},
{"mark":{"type":"rule","color":"#333","strokeWidth":1},"encoding":{"y":{"datum":0,"axis":{"orient":"right","values":[-100,-50,0,50,100,150,200],"labels":false,"tickSize":7,"offset":-7,"title":null}},"x":{"datum":-0.5,"axis":null},"x2":{"datum":0.5}}},
{"mark":{"type":"text","text":"i)","align":"left","baseline":"alphabetic","fontSize":32,"fontWeight":"normal","color":"#1a1a1a"},"encoding":{"x":{"datum":-0.439,"axis":{"orient":"top","tickCount":50,"labels":false,"tickSize":4,"offset":-4,"title":null}},"y":{"datum":184,"axis":{"orient":"right","tickCount":34,"labels":false,"tickSize":4,"offset":-4,"title":null}}}},
{"mark":{"type":"text","text":"2 K","align":"right","baseline":"alphabetic","fontSize":35,"fontWeight":"normal","color":"#27275F"},"encoding":{"x":{"datum":0.473,"axis":{"orient":"bottom","tickCount":50,"labels":false,"tickSize":4,"offset":-4,"title":null}},"y":{"datum":-64,"axis":{"orient":"left","tickCount":34,"labels":false,"tickSize":4,"offset":-4,"title":null}}}}
],"resolve":{"axis":{"x":"independent","y":"independent"}}}
],"spacing":41,"bounds":"flush"}
],
"spacing": 0
}
